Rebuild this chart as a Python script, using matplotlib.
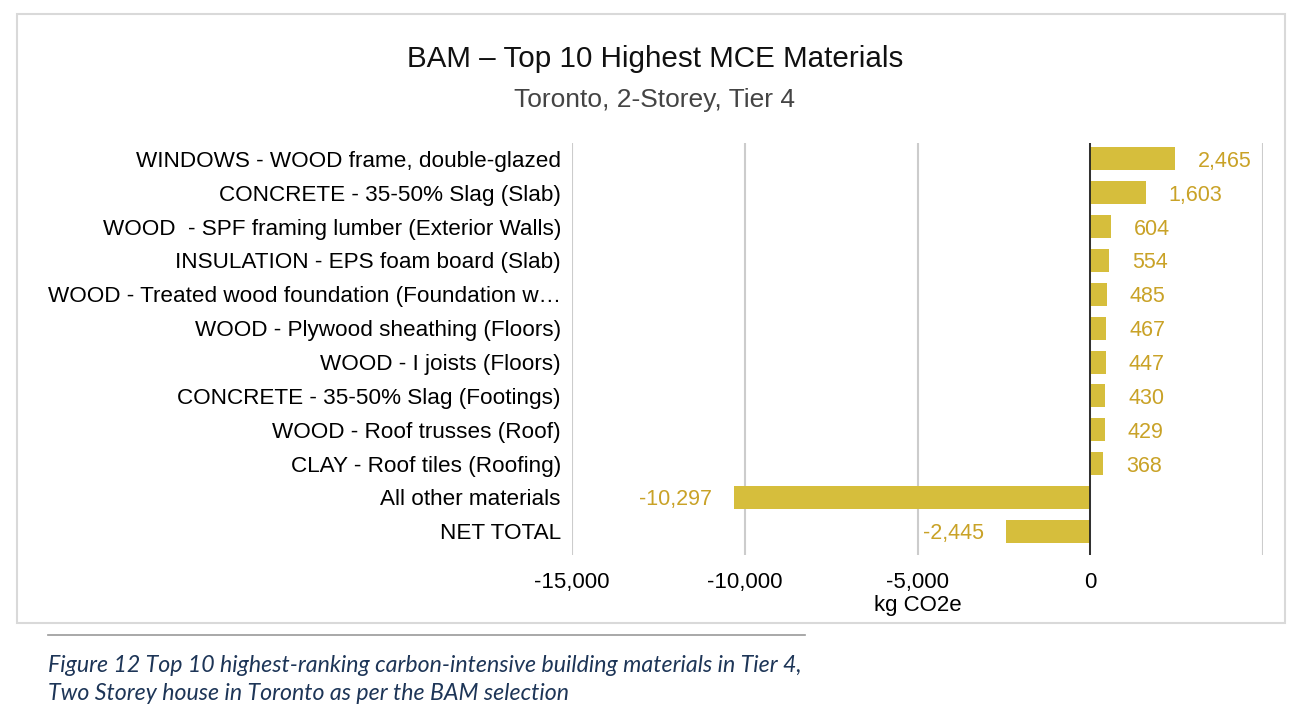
import matplotlib.pyplot as plt
from matplotlib.patches import Rectangle
from matplotlib.lines import Line2D

labels = ['WINDOWS - WOOD frame, double-glazed',
          'CONCRETE - 35-50% Slag (Slab)',
          'WOOD  - SPF framing lumber (Exterior Walls)',
          'INSULATION - EPS foam board (Slab)',
          'WOOD - Treated wood foundation (Foundation w\u2026',
          'WOOD - Plywood sheathing (Floors)',
          'WOOD - I joists (Floors)',
          'CONCRETE - 35-50% Slag (Footings)',
          'WOOD - Roof trusses (Roof)',
          'CLAY - Roof tiles (Roofing)',
          'All other materials',
          'NET TOTAL']
values = [2465, 1603, 604, 554, 485, 467, 447, 430, 429, 368, -10297, -2445]
xticks = [-15000, -10000, -5000, 0, 5000]
xtick_labels = ['-15,000', '-10,000', '-5,000', '0', '']

bar_color = '#D6BE3C'
text_gold = '#C9A227'

plt.rcParams['font.family'] = ['Liberation Sans', 'DejaVu Sans']

fig = plt.figure(figsize=(12.96, 7.2), dpi=100)

# outer frame of the chart
fig.patches.append(Rectangle((17 / 1296, 1 - 623 / 720), (1285 - 17) / 1296, (623 - 14) / 720,
                             transform=fig.transFigure, fill=False, edgecolor='#d9d9d9', lw=1.5))

ax = fig.add_axes([572 / 1296, 1 - 555 / 720, (1263 - 572) / 1296, (555 - 143) / 720])
y_pos = list(range(len(labels)))
ax.barh(y_pos, values, height=0.68, color=bar_color, zorder=3)

ax.set_xlim(-15000, 5000)
ax.set_ylim(len(labels) - 0.3, -0.47)
ax.set_xticks(xticks, xtick_labels, fontsize=16)
ax.set_yticks(y_pos, labels, fontsize=16.2)
ax.tick_params(length=0, pad=8)
ax.tick_params(axis='x', pad=12)
for s in ax.spines.values():
    s.set_visible(False)
ax.grid(axis='x', color='#cccccc', lw=1.5, zorder=0)
ax.axvline(0, color='#222222', lw=1.3, zorder=4)

for y, v in zip(y_pos, values):
    if v >= 0:
        ax.annotate(f'{v:,}', (v, y), xytext=(16.5, 0), textcoords='offset points',
                    ha='left', va='center_baseline', fontsize=15.5, color=text_gold)
    else:
        ax.annotate(f'{v:,}', (v, y), xytext=(-16, 0), textcoords='offset points',
                    ha='right', va='center_baseline', fontsize=15.5, color=text_gold)

ax.set_xlabel('kg CO2e', fontsize=16, labelpad=2)

fig.text(655 / 1296, 1 - 59 / 720, 'BAM \u2013 Top 10 Highest MCE Materials',
         ha='center', va='center', fontsize=21.3, color='#111111')
fig.text(655 / 1296, 1 - 100 / 720, 'Toronto, 2-Storey, Tier 4',
         ha='center', va='center', fontsize=19, color='#444444')

# caption below the chart
fig.lines.append(Line2D([48 / 1296, 805 / 1296], [1 - 635 / 720, 1 - 635 / 720],
                        transform=fig.transFigure, color='#999999', lw=1.2))
fig.text(48 / 1296, 1 - 665 / 720,
         'Figure 12 Top 10 highest-ranking carbon-intensive building materials in Tier 4,',
         ha='left', va='center', fontsize=16.7, style='italic', color='#1d3557', family='Lato')
fig.text(48 / 1296, 1 - 694 / 720,
         'Two Storey house in Toronto as per the BAM selection',
         ha='left', va='center', fontsize=16.7, style='italic', color='#1d3557', family='Lato')

fig.savefig('out.png', dpi=100)
